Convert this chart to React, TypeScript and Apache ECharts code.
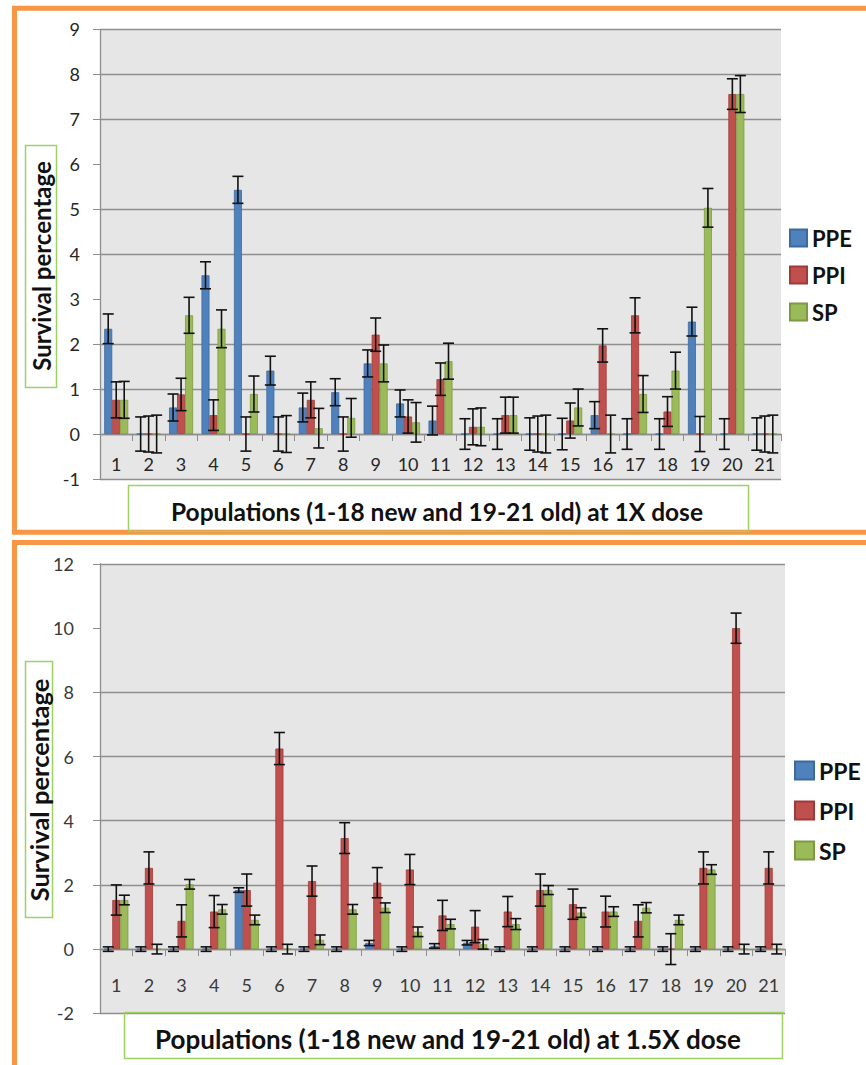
import React, { useEffect, useRef } from 'react';
import * as echarts from 'echarts';

const categories = ['1', '2', '3', '4', '5', '6', '7', '8', '9', '10', '11', '12', '13', '14', '15', '16', '17', '18', '19', '20', '21'];
const seriesNames = ['PPE', 'PPI', 'SP'];

// 1X dose
const ppe1X = [2.34, 0, 0.59, 3.53, 5.43, 1.41, 0.59, 0.93, 1.57, 0.68, 0.3, 0, 0, 0, 0, 0.42, 0, 0, 2.5, 0, 0];
const ppe1XErr = [0.33, 0.38, 0.3, 0.3, 0.3, 0.32, 0.32, 0.3, 0.3, 0.3, 0.32, 0.34, 0.34, 0.36, 0.35, 0.3, 0.34, 0.34, 0.32, 0.34, 0.36];
const ppi1X = [0.76, 0, 0.88, 0.42, 0, 0, 0.76, 0, 2.21, 0.39, 1.22, 0.16, 0.42, 0, 0.3, 1.97, 2.64, 0.5, 0, 7.56, 0];
const ppi1XErr = [0.4, 0.4, 0.36, 0.34, 0.38, 0.38, 0.4, 0.38, 0.37, 0.37, 0.36, 0.4, 0.4, 0.4, 0.39, 0.37, 0.39, 0.33, 0.39, 0.34, 0.4];
const sp1X = [0.76, 0, 2.64, 2.34, 0.89, 0, 0.13, 0.36, 1.57, 0.26, 1.62, 0.16, 0.42, 0, 0.59, 0, 0.89, 1.41, 5.03, 7.56, 0];
const sp1XErr = [0.41, 0.42, 0.4, 0.42, 0.4, 0.41, 0.44, 0.43, 0.41, 0.44, 0.4, 0.42, 0.4, 0.42, 0.41, 0.42, 0.41, 0.41, 0.43, 0.41, 0.42];

// 1.5X dose
const ppe15X = [0, 0, 0, 0, 1.84, 0, 0, 0, 0.19, 0, 0.1, 0.2, 0, 0, 0, 0, 0, 0, 0, 0, 0];
const ppe15XErr = [0.07, 0.07, 0.07, 0.07, 0.07, 0.07, 0.07, 0.07, 0.08, 0.07, 0.07, 0.07, 0.07, 0.07, 0.07, 0.07, 0.07, 0.07, 0.07, 0.07, 0.07];
const ppi15X = [1.53, 2.53, 0.88, 1.17, 1.84, 6.25, 2.12, 3.46, 2.07, 2.48, 1.05, 0.7, 1.17, 1.84, 1.4, 1.17, 0.88, 0, 2.53, 10.0, 2.53];
const ppi15XErr = [0.47, 0.5, 0.5, 0.5, 0.5, 0.5, 0.47, 0.48, 0.47, 0.47, 0.47, 0.5, 0.47, 0.5, 0.47, 0.48, 0.5, 0.48, 0.5, 0.47, 0.5];
const sp15X = [1.53, 0, 2.02, 1.24, 0.91, 0, 0.29, 1.24, 1.29, 0.54, 0.78, 0.15, 0.78, 1.84, 1.14, 1.17, 1.29, 0.91, 2.48, 0, 0];
const sp15XErr = [0.15, 0.15, 0.15, 0.15, 0.15, 0.15, 0.15, 0.15, 0.15, 0.15, 0.15, 0.15, 0.17, 0.14, 0.15, 0.15, 0.16, 0.15, 0.15, 0.15, 0.15];

const yTitle = 'Survival percentage';
const xTitle1X = 'Populations (1-18 new and 19-21 old) at 1X dose';
const xTitle15X = 'Populations (1-18 new and 19-21 old) at 1.5X dose';

const barColors = ['#4f81bd', '#c0504d', '#9bbb59'];
const barBorders = ['#3d6a9e', '#9e3b38', '#7c9a43'];
const GRID_GRAY = '#8e8e8e';
const GAP = 0.26;
const FONT = 'Lato';

function barSeries(name: string, values: number[], gi: number, idx: number) {
  return {
    type: 'bar',
    name,
    xAxisIndex: gi,
    yAxisIndex: gi,
    data: values,
    barGap: '0%',
    barCategoryGap: GAP * 100 + '%',
    itemStyle: { color: barColors[idx], borderColor: barBorders[idx], borderWidth: 0.8 },
    z: 3,
  };
}

function errorSeries(name: string, values: number[], errs: number[], gi: number, idx: number) {
  return {
    type: 'custom',
    name: name + ' error',
    xAxisIndex: gi,
    yAxisIndex: gi,
    z: 6,
    data: values.map((v, i) => [i, v, errs[i]]),
    encode: { x: 0, y: 1 },
    renderItem: (params: any, api: any) => {
      const ci = api.value(0);
      const v = api.value(1);
      const e = api.value(2);
      const band = api.size([1, 0])[0];
      const bw = (band * (1 - GAP)) / 3;
      const base = api.coord([ci, v]);
      const cx = base[0] + (idx - 1) * bw;
      const yTop = api.coord([ci, v + e])[1];
      const yBot = api.coord([ci, v - e])[1];
      const hw = 5.5;
      const st = { stroke: '#111', lineWidth: 1.6 };
      return {
        type: 'group',
        children: [
          { type: 'line', shape: { x1: cx, y1: yTop, x2: cx, y2: yBot }, style: st },
          { type: 'line', shape: { x1: cx - hw, y1: yTop, x2: cx + hw, y2: yTop }, style: st },
          { type: 'line', shape: { x1: cx - hw, y1: yBot, x2: cx + hw, y2: yBot }, style: st },
        ],
      };
    },
  };
}

// grid geometry
const GRID1 = { top: 29.3, height: 449.7, min: -1, max: 9 };
const GRID2 = { top: 564, height: 449.3, min: -2, max: 12 };
// distance (px) from the grid's bottom edge up to the zero line
const zeroOffset = (g: { height: number; min: number; max: number }) => (g.height * (0 - g.min)) / (g.max - g.min);

export default function App() {
  const ref = useRef<HTMLDivElement>(null);
  useEffect(() => {
    if (!ref.current) return;
    const chart = echarts.init(ref.current, null, { renderer: 'svg' });
    const T = 'transparent';
    const grids = [GRID1, GRID2];
    const option: any = {
      animation: false,
      backgroundColor: '#ffffff',
      grid: [
        { left: 100, top: GRID1.top, right: 85, height: GRID1.height, show: true, backgroundColor: '#e6e6e6', borderWidth: 0, outerBoundsMode: 'none' },
        { left: 100, top: GRID2.top, right: 81, height: GRID2.height, show: true, backgroundColor: '#e6e6e6', borderWidth: 0, outerBoundsMode: 'none' },
      ],
      xAxis: [0, 1].map((gi) => ({
        gridIndex: gi,
        type: 'category',
        data: categories,
        position: 'bottom',
        offset: -zeroOffset(grids[gi]),
        axisLine: { onZero: false, lineStyle: { color: GRID_GRAY, width: 1.3 } },
        axisTick: { show: true, length: 7, interval: 0, lineStyle: { color: GRID_GRAY } },
        axisLabel: { interval: 0, fontFamily: FONT, fontSize: 18, color: gi === 0 ? '#262626' : '#3a3a3a', margin: gi === 0 ? 21 : 27 },
        splitLine: { show: false },
      })),
      yAxis: [
        {
          gridIndex: 0,
          type: 'value',
          min: GRID1.min,
          max: GRID1.max,
          interval: 1,
          axisLine: { show: true, onZero: false, lineStyle: { color: GRID_GRAY, width: 1.3 } },
          axisTick: { show: true, length: 7, lineStyle: { color: GRID_GRAY } },
          axisLabel: { fontFamily: FONT, fontSize: 18, color: '#262626', margin: 20 },
          splitLine: { show: true, lineStyle: { width: 1.3, color: [GRID_GRAY, GRID_GRAY, GRID_GRAY, GRID_GRAY, T, GRID_GRAY, GRID_GRAY, T, GRID_GRAY, GRID_GRAY, GRID_GRAY] } },
        },
        {
          gridIndex: 1,
          type: 'value',
          min: GRID2.min,
          max: GRID2.max,
          interval: 2,
          axisLine: { show: true, onZero: false, lineStyle: { color: GRID_GRAY, width: 1.3 } },
          axisTick: { show: true, length: 7, lineStyle: { color: GRID_GRAY } },
          axisLabel: { fontFamily: FONT, fontSize: 18, color: '#3a3a3a', margin: 26 },
          splitLine: { show: true, lineStyle: { width: 1.3, color: [GRID_GRAY, GRID_GRAY, GRID_GRAY, GRID_GRAY, GRID_GRAY, GRID_GRAY, T, GRID_GRAY] } },
        },
      ],
      legend: [
        {
          data: seriesNames,
          orient: 'vertical',
          left: 784,
          top: 222,
          itemWidth: 17,
          itemHeight: 17,
          itemGap: 15,
          icon: 'rect',
          textStyle: { fontFamily: FONT, fontWeight: 'bold', fontSize: 22, lineHeight: 22, color: '#111' },
        },
        {
          data: seriesNames,
          orient: 'vertical',
          left: 789,
          top: 754,
          itemWidth: 19,
          itemHeight: 18,
          itemGap: 17,
          icon: 'rect',
          textStyle: { fontFamily: FONT, fontWeight: 'bold', fontSize: 23, lineHeight: 22, color: '#111' },
        },
      ],
      graphic: [
        { type: 'rect', z: 0, shape: { x: 14.5, y: 8.3, width: 900, height: 524 }, style: { fill: 'none', stroke: '#f79646', lineWidth: 5 } },
        { type: 'rect', z: 0, shape: { x: 14.5, y: 542.5, width: 900, height: 600 }, style: { fill: 'none', stroke: '#f79646', lineWidth: 5 } },
        { type: 'rect', z: 1, shape: { x: 25.5, y: 145.5, width: 31, height: 242 }, style: { fill: 'none', stroke: '#9dd161', lineWidth: 1.5 } },
        { type: 'text', z: 2, x: 41, y: 266, rotation: Math.PI / 2, style: { text: yTitle, fontFamily: FONT, fontWeight: 'bold', fontSize: 24, fill: '#111', align: 'center', verticalAlign: 'middle' } },
        { type: 'rect', z: 1, shape: { x: 128.5, y: 485.5, width: 620, height: 46 }, style: { fill: 'none', stroke: '#9dd161', lineWidth: 1.5 } },
        { type: 'text', z: 2, x: 437, y: 511, style: { text: xTitle1X, fontFamily: FONT, fontWeight: 'bold', fontSize: 24.5, fill: '#111', align: 'center', verticalAlign: 'middle' } },
        { type: 'rect', z: 1, shape: { x: 25.5, y: 661.5, width: 27, height: 256 }, style: { fill: 'none', stroke: '#9dd161', lineWidth: 1.5 } },
        { type: 'text', z: 2, x: 39, y: 790, rotation: Math.PI / 2, style: { text: yTitle, fontFamily: FONT, fontWeight: 'bold', fontSize: 25.5, fill: '#111', align: 'center', verticalAlign: 'middle' } },
        { type: 'rect', z: 1, shape: { x: 124.5, y: 1012.5, width: 658, height: 46 }, style: { fill: 'none', stroke: '#9dd161', lineWidth: 1.5 } },
        { type: 'text', z: 2, x: 448, y: 1039, style: { text: xTitle15X, fontFamily: FONT, fontWeight: 'bold', fontSize: 26, fill: '#111', align: 'center', verticalAlign: 'middle' } },
      ],
      series: [
        barSeries('PPE', ppe1X, 0, 0),
        barSeries('PPI', ppi1X, 0, 1),
        barSeries('SP', sp1X, 0, 2),
        barSeries('PPE', ppe15X, 1, 0),
        barSeries('PPI', ppi15X, 1, 1),
        barSeries('SP', sp15X, 1, 2),
        errorSeries('PPE', ppe1X, ppe1XErr, 0, 0),
        errorSeries('PPI', ppi1X, ppi1XErr, 0, 1),
        errorSeries('SP', sp1X, sp1XErr, 0, 2),
        errorSeries('PPE', ppe15X, ppe15XErr, 1, 0),
        errorSeries('PPI', ppi15X, ppi15XErr, 1, 1),
        errorSeries('SP', sp15X, sp15XErr, 1, 2),
      ],
    };
    chart.setOption(option);
    return () => chart.dispose();
  }, []);
  return <div ref={ref} style={{ position: 'absolute', left: 0, top: 0, width: 866, height: 1065 }} />;
}
